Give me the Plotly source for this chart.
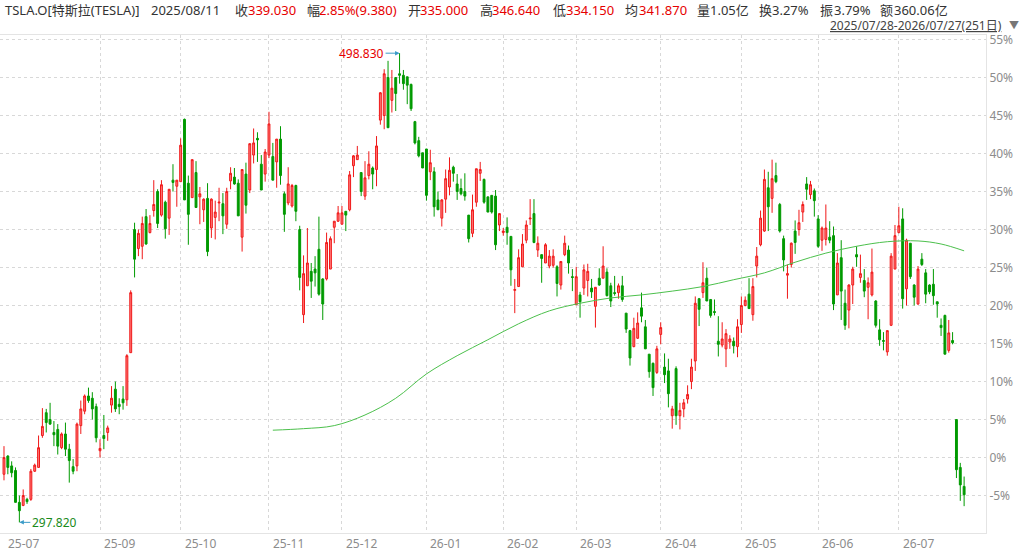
import plotly.graph_objects as go

# Base close (first day) used for the % axis, and the marked extremes
base_close = 325.59
hi_price = 498.830
lo_price = 297.820
hi_day = 103
lo_day = 4

# Daily OHLC, in % versus base_close
open_pct = [
    -2.2, 0.2, -1.1, -1.7, -5.9, -6.3, -5.5, -5.5, -1.8, -1.3,
    2.9, 5.9, 5.0, 3.3, 3.7, 1.3, 3.1, 1.1, -1.2, -1.1,
    4.2, 6.1, 8.1, 7.8, 6.7, 0.9, 2.9, 3.3, 6.9, 9.0,
    7.0, 7.7, 7.6, 13.8, 30.0, 27.5, 27.8, 31.7, 29.6, 32.5,
    35.0, 31.9, 33.6, 31.5, 36.5, 35.7, 36.3, 44.5, 36.1, 34.2,
    37.5, 34.3, 32.6, 34.1, 30.2, 31.6, 33.5, 33.4, 30.7, 36.4,
    36.9, 36.1, 29.0, 37.3, 35.2, 39.8, 42.0, 38.6, 37.3, 39.8,
    39.6, 38.9, 41.9, 34.7, 33.5, 33.1, 35.8, 30.0, 18.8, 22.6,
    24.5, 24.8, 27.4, 23.5, 23.5, 24.8, 30.3, 31.1, 30.7, 32.4,
    32.6, 38.4, 39.2, 37.5, 34.4, 37.1, 38.1, 37.9, 44.4, 45.0,
    50.0, 47.0, 50.0, 50.5, 50.3, 50.1, 49.1, 44.2, 41.7, 40.1,
    40.6, 37.6, 37.6, 33.9, 31.5, 34.0, 35.6, 38.2, 36.0, 35.4,
    35.0, 31.9, 29.5, 33.6, 37.4, 36.6, 34.3, 34.5, 34.4, 30.6,
    29.6, 30.3, 29.1, 22.0, 22.5, 25.1, 28.6, 31.4, 32.1, 27.3,
    26.7, 25.6, 25.2, 25.3, 25.1, 22.7, 26.7, 27.3, 23.8, 20.1,
    21.4, 22.3, 23.3, 22.3, 19.9, 23.6, 23.6, 24.4, 22.6, 21.7,
    21.7, 22.6, 19.0, 16.7, 14.6, 15.7, 19.7, 17.2, 13.6, 12.4,
    11.2, 16.2, 11.9, 11.4, 5.5, 11.7, 5.5, 6.4, 7.7, 10.0,
    12.7, 20.9, 21.7, 23.6, 20.8, 19.2, 15.3, 14.8, 14.3, 15.2,
    15.3, 14.6, 17.5, 20.0, 21.5, 18.8, 25.2, 28.0, 29.8, 35.5,
    34.1, 37.1, 33.3, 28.8, 24.0, 25.4, 29.8, 30.0, 32.3, 36.0,
    34.6, 35.1, 31.4, 28.6, 28.7, 29.0, 29.2, 21.4, 26.3, 20.3,
    19.4, 22.7, 26.7, 23.7, 23.3, 22.4, 21.4, 20.6, 16.8, 15.4,
    13.9, 17.4, 24.8, 29.6, 31.4, 22.2, 28.2, 22.7, 20.2, 26.1,
    24.3, 22.7, 22.8, 20.5, 17.4, 18.7, 14.1, 15.4, 5.0, -1.3,
    -3.8,
]
high_pct = [
    1.5, 0.3, -0.5, -1.3, -5.0, -4.2, -5.3, -1.5, -0.8, 2.9,
    6.5, 6.4, 7.2, 4.8, 4.4, 3.3, 4.6, 1.8, -0.2, 4.6,
    7.5, 8.3, 9.2, 8.6, 7.1, 2.4, 5.6, 4.2, 9.4, 10.0,
    7.8, 9.4, 13.6, 22.0, 30.9, 30.0, 31.7, 32.7, 31.9, 36.5,
    35.3, 36.5, 33.8, 35.3, 38.6, 36.5, 42.0, 44.6, 37.1, 39.2,
    39.0, 35.6, 34.1, 36.1, 34.1, 33.8, 35.5, 34.8, 35.5, 38.2,
    38.1, 36.6, 37.9, 38.8, 41.3, 43.3, 42.8, 39.8, 40.6, 45.5,
    41.4, 41.9, 43.6, 35.0, 38.2, 36.0, 35.9, 30.5, 26.6, 30.2,
    25.6, 26.5, 31.7, 23.6, 29.6, 29.1, 31.1, 33.1, 33.1, 32.4,
    37.7, 39.8, 41.0, 37.5, 39.0, 40.3, 38.3, 42.3, 48.1, 51.1,
    52.2, 51.0, 50.0, 53.21, 51.0, 50.1, 49.2, 44.3, 42.2, 40.1,
    40.6, 40.5, 38.2, 35.0, 34.0, 37.9, 39.5, 38.4, 37.3, 36.7,
    37.4, 31.9, 34.6, 38.0, 38.9, 36.7, 34.3, 34.5, 35.2, 32.1,
    30.2, 31.6, 29.1, 23.5, 27.4, 29.4, 31.2, 34.0, 34.0, 29.1,
    26.7, 28.2, 27.3, 27.4, 25.3, 25.8, 29.2, 27.9, 24.8, 25.1,
    21.8, 25.4, 25.5, 23.5, 22.4, 24.9, 27.8, 24.9, 23.0, 23.9,
    22.9, 23.9, 19.0, 16.8, 18.4, 19.1, 21.7, 18.1, 13.6, 12.5,
    14.7, 17.8, 13.7, 13.0, 6.8, 12.0, 7.2, 7.7, 9.5, 13.0,
    21.2, 21.0, 25.7, 25.0, 20.8, 20.8, 18.6, 17.8, 16.9, 16.1,
    15.8, 18.2, 21.2, 21.2, 23.6, 23.6, 27.7, 32.5, 37.9, 37.6,
    39.2, 38.8, 33.5, 29.2, 25.4, 28.3, 31.2, 32.6, 33.7, 36.9,
    36.4, 35.4, 31.9, 30.4, 33.3, 31.1, 30.4, 26.9, 28.6, 22.1,
    22.8, 25.1, 27.8, 26.7, 24.8, 23.7, 27.5, 20.7, 18.2, 16.5,
    16.7, 26.9, 30.6, 33.0, 32.8, 28.8, 28.2, 22.8, 25.2, 26.9,
    24.8, 22.8, 24.8, 20.5, 18.3, 18.8, 18.1, 16.5, 5.0, -0.7,
    -2.5,
]
low_pct = [
    -3.0, -2.2, -2.6, -5.9, -8.53, -6.4, -6.1, -5.7, -1.9, -1.3,
    2.6, 3.3, 4.3, 1.5, 0.4, 1.1, 0.2, -3.3, -2.2, -1.8,
    3.1, 5.7, 7.2, 5.0, 2.0, 0.0, 1.1, 2.2, 5.9, 6.0,
    5.7, 6.3, 6.8, 13.8, 23.7, 26.5, 26.1, 28.0, 29.5, 31.7,
    30.2, 31.7, 28.8, 29.3, 35.0, 33.0, 36.3, 33.9, 28.0, 34.2,
    32.9, 30.7, 31.0, 26.5, 28.9, 28.7, 31.1, 29.4, 30.1, 35.3,
    35.9, 31.8, 27.1, 32.1, 34.8, 38.7, 38.9, 35.2, 36.3, 39.4,
    36.5, 35.5, 35.9, 29.7, 33.2, 32.9, 31.1, 22.0, 17.7, 22.6,
    21.0, 22.5, 21.3, 18.1, 23.3, 24.8, 28.2, 31.0, 30.7, 29.8,
    32.4, 36.9, 39.2, 34.4, 33.9, 36.6, 35.3, 35.7, 43.8, 43.2,
    43.4, 45.4, 45.6, 49.2, 48.4, 46.5, 45.6, 41.2, 39.5, 38.1,
    33.8, 36.5, 31.7, 32.6, 30.4, 32.2, 34.5, 36.3, 33.9, 34.5,
    33.8, 28.3, 29.0, 33.0, 36.4, 33.4, 32.3, 32.1, 27.3, 29.8,
    29.2, 28.0, 22.6, 19.0, 22.5, 25.1, 28.2, 30.6, 28.2, 26.4,
    23.0, 25.6, 24.9, 25.0, 21.2, 22.1, 26.5, 24.2, 21.9, 20.1,
    18.4, 21.4, 21.2, 21.0, 17.1, 22.6, 23.6, 21.2, 19.8, 21.3,
    20.9, 20.5, 16.4, 12.1, 14.5, 15.6, 17.8, 14.3, 10.5, 8.1,
    11.0, 14.9, 9.8, 6.6, 3.8, 4.3, 3.7, 5.3, 7.1, 9.0,
    11.4, 17.3, 21.0, 20.6, 18.4, 18.7, 13.3, 14.5, 11.9, 14.3,
    13.7, 13.2, 16.4, 19.9, 19.6, 18.0, 23.7, 27.8, 29.7, 29.8,
    32.2, 36.1, 29.6, 24.5, 20.9, 25.0, 26.8, 29.2, 31.0, 33.9,
    34.0, 31.7, 27.6, 27.2, 27.9, 28.2, 19.4, 21.4, 18.1, 16.8,
    17.0, 20.2, 25.1, 23.0, 21.1, 18.2, 21.2, 17.1, 14.7, 14.1,
    13.4, 17.3, 24.8, 29.5, 19.6, 20.0, 23.5, 20.0, 20.1, 25.2,
    20.3, 21.5, 20.1, 18.4, 16.0, 13.6, 13.8, 14.9, -2.7, -5.7,
    -6.4,
]
close_pct = [
    0.0, -1.3, -2.0, -5.9, -7.0, -5.0, -5.8, -1.8, -1.0, 1.3,
    4.1, 4.6, 4.4, 3.0, 1.5, 3.1, 1.1, -0.4, -1.8, 4.4,
    6.4, 8.1, 7.5, 6.4, 2.6, 1.2, 2.5, 3.9, 7.8, 6.4,
    6.7, 7.2, 13.4, 21.7, 26.1, 29.5, 30.8, 28.1, 30.8, 33.3,
    30.8, 35.9, 30.1, 35.3, 36.2, 36.5, 41.1, 33.9, 32.0, 39.2,
    32.9, 34.7, 34.0, 27.1, 34.0, 32.3, 33.6, 31.8, 35.0, 37.4,
    36.0, 31.8, 37.9, 33.2, 41.3, 41.4, 41.8, 35.2, 40.2, 43.9,
    36.5, 41.9, 37.1, 32.0, 36.0, 35.8, 32.4, 23.7, 24.2, 25.6,
    23.2, 24.3, 21.5, 20.2, 28.3, 28.8, 31.1, 32.2, 32.2, 31.9,
    37.2, 39.7, 39.8, 35.0, 36.8, 38.6, 37.3, 41.0, 48.0, 50.5,
    43.4, 48.6, 47.9, 50.3, 49.2, 49.0, 45.9, 41.4, 39.7, 38.1,
    34.5, 38.8, 33.0, 32.6, 33.9, 36.7, 37.8, 37.4, 35.0, 34.7,
    34.4, 28.8, 32.6, 38.0, 37.9, 33.6, 32.3, 32.3, 28.0, 32.1,
    29.8, 29.6, 24.7, 22.1, 26.3, 28.1, 30.6, 31.5, 28.3, 28.2,
    26.2, 28.0, 26.5, 26.5, 22.9, 25.8, 28.2, 25.6, 23.7, 23.8,
    20.5, 24.7, 24.5, 21.8, 22.4, 22.7, 25.2, 21.3, 20.6, 21.6,
    22.6, 20.8, 16.9, 13.1, 17.0, 17.7, 18.6, 14.3, 11.3, 9.2,
    14.3, 17.1, 10.9, 8.4, 6.4, 5.5, 6.2, 7.2, 8.3, 11.9,
    20.3, 19.5, 23.0, 20.6, 18.7, 19.1, 14.9, 15.6, 16.3, 15.6,
    14.7, 17.2, 20.0, 20.7, 19.6, 22.5, 26.5, 31.5, 36.6, 33.0,
    36.7, 36.3, 29.8, 26.0, 24.2, 28.2, 28.3, 30.9, 33.3, 35.3,
    35.9, 33.8, 27.8, 30.2, 30.2, 28.6, 20.2, 25.6, 21.9, 17.4,
    22.7, 24.8, 26.4, 24.2, 21.9, 23.0, 24.4, 17.4, 15.5, 15.3,
    16.7, 26.5, 29.2, 30.5, 20.9, 28.6, 23.8, 21.1, 24.8, 25.4,
    21.5, 21.8, 21.3, 20.2, 17.1, 13.6, 16.4, 15.1, -1.6, -3.6,
    -4.9,
]
day = list(range(len(close_pct)))

# Long moving average (sampled along the curve)
ma_day = [70, 78, 86, 94, 102, 110, 118, 126, 134, 142, 150, 158, 166,
          174, 182, 190, 198, 206, 214, 222, 230, 238, 244, 250]
ma_pct = [3.6, 3.8, 4.2, 5.6, 7.8, 11.0, 13.4, 15.5, 17.6, 19.3, 20.3, 21.0, 21.4,
          21.9, 22.5, 23.4, 24.3, 25.7, 26.9, 27.8, 28.4, 28.5, 28.1, 27.2]

# Month starts (trading-day index) and their labels
month_day = [0, 25, 46, 69, 88, 110, 130, 149, 171, 192, 212, 233]
month_label = ["25-07", "25-09", "25-10", "25-11", "25-12", "26-01",
               "26-02", "26-03", "26-04", "26-05", "26-06", "26-07"]

pct_ticks = [-5, 0, 5, 10, 15, 20, 25, 30, 35, 40, 45, 50, 55]

# Header line: (left px, text, colour)
head_x = [3, 149, 233, 246, 305, 317, 406, 418, 478, 490, 551, 564,
          623, 637, 695, 708, 757, 770, 818, 832, 878, 892]
head_text = ["TSLA.O[特斯拉(TESLA)]", "2025/08/11", "收", "339.030", "幅", "2.85%(9.380)",
             "开", "335.000", "高", "346.640", "低", "334.150", "均", "341.870",
             "量", "1.05亿", "换", "3.27%", "振", "3.79%", "额", "360.06亿"]
dark = "#333333"
red = "#e60000"
head_color = [dark, dark, dark, red, dark, red, dark, red, dark, red, dark, red,
              dark, red, dark, dark, dark, dark, dark, dark, dark, dark]

FONT = "Noto Sans, Noto Sans CJK SC, sans-serif"

fig = go.Figure()

fig.add_trace(go.Candlestick(
    x=day, open=open_pct, high=high_pct, low=low_pct, close=close_pct,
    increasing=dict(line=dict(color="#f01818", width=1), fillcolor="#ff7a7a"),
    decreasing=dict(line=dict(color="#009a00", width=1), fillcolor="#009a00"),
    whiskerwidth=0, hoverinfo="skip",
))

fig.add_trace(go.Scatter(
    x=ma_day, y=ma_pct, mode="lines", line=dict(color="#4cc04c", width=1),
    line_shape="spline", hoverinfo="skip",
))

annotations = []
for x0, t, c in zip(head_x, head_text, head_color):
    annotations.append(dict(
        xref="paper", yref="paper", x=0, y=1, xshift=x0, yshift=35 - 10,
        xanchor="left", yanchor="middle", text=t, showarrow=False,
        font=dict(family=FONT, size=13, color=c),
    ))

annotations.append(dict(
    xref="paper", yref="paper", x=0, y=1, xshift=1004, yshift=35 - 25,
    xanchor="right", yanchor="middle", text="<u>2025/07/28-2026/07/27(251日)</u>",
    showarrow=False, font=dict(family=FONT, size=12, color="#444444"),
))
annotations.append(dict(
    xref="paper", yref="paper", x=0, y=1, xshift=1007, yshift=35 - 25,
    xanchor="left", yanchor="middle", text="▼",
    showarrow=False, font=dict(family=FONT, size=10, color="#777777"),
))

for d, lab in zip(month_day, month_label):
    annotations.append(dict(
        xref="x", yref="paper", x=d, y=0, xshift=2, yshift=-10,
        xanchor="left", yanchor="middle", text=lab, showarrow=False,
        font=dict(family=FONT, size=12, color="#8c8c8c"),
    ))

# Extreme price markers
annotations.append(dict(
    x=hi_day, y=hi_price / base_close * 100 - 100, text=f"{hi_price:.3f}",
    showarrow=True, ax=-38, ay=0, arrowhead=2, arrowsize=0.9, arrowwidth=1,
    arrowcolor="#3b9bc8", font=dict(family=FONT, size=12, color=red),
))
annotations.append(dict(
    x=lo_day, y=lo_price / base_close * 100 - 100, text=f"{lo_price:.3f}",
    showarrow=True, ax=35, ay=0, arrowhead=2, arrowsize=0.9, arrowwidth=1,
    arrowcolor="#3b9bc8", font=dict(family=FONT, size=12, color="#1a8a1a"),
))

fig.update_layout(
    width=1024, height=552,
    margin=dict(l=0, r=38, t=35, b=19),
    paper_bgcolor="white", plot_bgcolor="white",
    showlegend=False,
    annotations=annotations,
    font=dict(family=FONT),
)

fig.update_xaxes(
    range=[-1.04, 255.7], tickvals=month_day[1:], showticklabels=False,
    showgrid=True, gridcolor="#d8d8d8", griddash="dot", gridwidth=1,
    zeroline=False, rangeslider=dict(visible=False),
    showline=True, linecolor="#e4e4e4", mirror=True,
)
fig.update_yaxes(
    side="right", range=[-9.93, 55.6], tickvals=pct_ticks,
    ticktext=[f"{v}%" for v in pct_ticks],
    tickfont=dict(family=FONT, size=12, color="#8c8c8c"),
    showgrid=True, gridcolor="#d8d8d8", griddash="dot", gridwidth=1,
    zeroline=False, showline=True, linecolor="#e4e4e4", mirror=True,
)

# the page has a default 8px body margin; drop it so the figure fills the window
fig.write_html(
    "out.html",
    config={"displayModeBar": False},
    post_script="document.body.style.margin='0';",
)
